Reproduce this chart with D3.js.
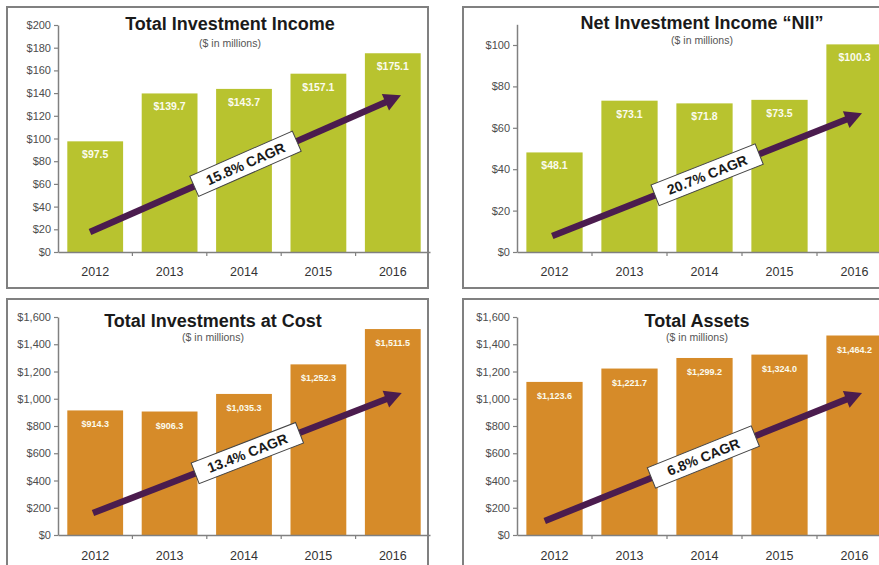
<!DOCTYPE html>
<html>
<head>
<meta charset="utf-8">
<script src="https://cdn.jsdelivr.net/npm/d3@7"></script>
<style>
  html, body { margin: 0; padding: 0; background: #fff; }
  svg { display: block; }
  text { font-family: "Liberation Sans", Arial, sans-serif; }
</style>
</head>
<body>
<svg id="chart" width="879" height="565"></svg>
<script>
// ---- Data ----
const years = ["2012", "2013", "2014", "2015", "2016"];

const titles = ["Total Investment Income", "Net Investment Income \u201CNII\u201D", "Total Investments at Cost", "Total Assets"];
const subtitle = "($ in millions)";

const totalInvestmentIncome = [97.5, 139.7, 143.7, 157.1, 175.1];
const netInvestmentIncome = [48.1, 73.1, 71.8, 73.5, 100.3];
const totalInvestmentsAtCost = [914.3, 906.3, 1035.3, 1252.3, 1511.5];
const totalAssets = [1123.6, 1221.7, 1299.2, 1324.0, 1464.2];

const cagrLabels = ["15.8% CAGR", "20.7% CAGR", "13.4% CAGR", "6.8% CAGR"];

const ticksIncome = [0, 20, 40, 60, 80, 100, 120, 140, 160, 180, 200];
const ticksNII = [0, 20, 40, 60, 80, 100];
const ticksAssets = [0, 200, 400, 600, 800, 1000, 1200, 1400, 1600];

// arrow annotations: [category position start, value start, category position end, value end]
const arrowIncome = [-0.07, 17.6, 4.11, 138];
const arrowNII = [-0.03, 7.7, 4.1, 67];
const arrowCost = [-0.03, 161, 4.12, 1042];
const arrowAssets = [-0.13, 103, 4.1, 1042];

// ---- Layout ----
const GREEN = "#b8c32f";
const ORANGE = "#d68b29";
const PURPLE = "#4b1c4e";

const panels = [
  { values: totalInvestmentIncome, ticks: ticksIncome, yMax: 200, color: GREEN, arrow: arrowIncome,
    frame: [7, 7, 421, 281], xr: [58, 430], yr: [252, 25], titleX: 230, titleY: 30, subY: 47,
    valSize: 10.5, yearY: 272, fmt: d3.format("$,.0f") },
  { values: netInvestmentIncome, ticks: ticksNII, yMax: 110, color: GREEN, arrow: arrowNII,
    frame: [463, 7, 480, 281], xr: [517, 892], yr: [252, 24.3], titleX: 702, titleY: 29, subY: 44,
    valSize: 10.5, yearY: 272, fmt: d3.format("$,.0f") },
  { values: totalInvestmentsAtCost, ticks: ticksAssets, yMax: 1600, color: ORANGE, arrow: arrowCost,
    frame: [7, 299, 421, 300], xr: [58, 430], yr: [535, 317], titleX: 213, titleY: 327, subY: 341,
    valSize: 9, yearY: 556, fmt: d3.format("$,.0f") },
  { values: totalAssets, ticks: ticksAssets, yMax: 1600, color: ORANGE, arrow: arrowAssets,
    frame: [463, 299, 480, 300], xr: [517, 892], yr: [535, 317], titleX: 697, titleY: 327, subY: 341,
    valSize: 9, yearY: 556, fmt: d3.format("$,.0f") }
];

const svg = d3.select("#chart");
const valFmt = d3.format("$,.1f");

panels.forEach((p, i) => {
  const g = svg.append("g");

  // frame
  g.append("rect")
    .attr("x", p.frame[0]).attr("y", p.frame[1])
    .attr("width", p.frame[2]).attr("height", p.frame[3])
    .attr("fill", "#fff").attr("stroke", "#808080").attr("stroke-width", 2);

  const x = d3.scaleBand().domain(years).range(p.xr).paddingInner(0.25).paddingOuter(0.125);
  const y = d3.scaleLinear().domain([0, p.yMax]).range(p.yr);

  // bars
  g.selectAll("rect.bar").data(p.values).join("rect")
    .attr("class", "bar")
    .attr("x", (d, j) => x(years[j]))
    .attr("y", d => y(d))
    .attr("width", x.bandwidth())
    .attr("height", d => y(0) - y(d))
    .attr("fill", p.color);

  // value labels
  g.selectAll("text.val").data(p.values).join("text")
    .attr("class", "val")
    .attr("x", (d, j) => x(years[j]) + x.bandwidth() / 2)
    .attr("y", d => y(d) + 17)
    .attr("text-anchor", "middle")
    .attr("font-size", p.valSize)
    .attr("font-weight", "bold")
    .attr("fill", "#fbfbee")
    .text(d => valFmt(d));

  // y axis
  const yAxis = g.append("g")
    .attr("transform", `translate(${p.xr[0]},0)`)
    .call(d3.axisLeft(y).tickValues(p.ticks).tickFormat(p.fmt).tickSize(4).tickSizeOuter(0).tickPadding(3));
  yAxis.select(".domain").attr("stroke", "#808080").attr("stroke-width", 1.5);
  yAxis.selectAll(".tick line").attr("stroke", "#808080").attr("stroke-width", 1.2);
  yAxis.selectAll(".tick text").attr("fill", "#4d4d4d").attr("font-size", 11)
    .attr("font-family", "'Liberation Sans', Arial, sans-serif");

  // x axis
  const xAxis = g.append("g")
    .attr("transform", `translate(0,${y(0)})`)
    .call(d3.axisBottom(x).tickSize(0).tickSizeOuter(0).tickPadding(0));
  xAxis.select(".domain").attr("stroke", "#808080").attr("stroke-width", 1.5);
  xAxis.selectAll(".tick text")
    .attr("y", p.yearY - y(0))
    .attr("dy", "0.35em")
    .attr("fill", "#333").attr("font-size", 12.5)
    .attr("font-family", "'Liberation Sans', Arial, sans-serif");
  // separator ticks between categories
  g.selectAll("line.sep").data(years.slice(1)).join("line")
    .attr("class", "sep")
    .attr("x1", d => x(d) - x.step() * x.paddingInner() / 2)
    .attr("x2", d => x(d) - x.step() * x.paddingInner() / 2)
    .attr("y1", y(0)).attr("y2", y(0) + 4)
    .attr("stroke", "#808080").attr("stroke-width", 1.2);

  // titles
  g.append("text")
    .attr("x", p.titleX).attr("y", p.titleY)
    .attr("text-anchor", "middle")
    .attr("font-size", 18).attr("font-weight", "bold").attr("fill", "#1a1a1a")
    .text(titles[i]);
  g.append("text")
    .attr("x", p.titleX).attr("y", p.subY)
    .attr("text-anchor", "middle")
    .attr("font-size", 10.5).attr("fill", "#555")
    .text(subtitle);

  // CAGR arrow
  const cx = k => x(years[0]) + x.bandwidth() / 2 + k * x.step();
  const x1 = cx(p.arrow[0]), y1 = y(p.arrow[1]);
  const x2 = cx(p.arrow[2]), y2 = y(p.arrow[3]);
  const ang = Math.atan2(y2 - y1, x2 - x1);
  const deg = ang * 180 / Math.PI;
  const len = Math.hypot(x2 - x1, y2 - y1);
  const head = 17, hw = 9;
  const ag = g.append("g").attr("transform", `translate(${x1},${y1}) rotate(${deg})`);
  ag.append("line")
    .attr("x1", 0).attr("y1", 0).attr("x2", len - head + 2).attr("y2", 0)
    .attr("stroke", PURPLE).attr("stroke-width", 6.5);
  ag.append("path")
    .attr("d", `M${len},0 L${len - head},${-hw} L${len - head},${hw} Z`)
    .attr("fill", PURPLE);

  // CAGR label
  const mx = x1 + (x2 - x1) * 0.5, my = y1 + (y2 - y1) * 0.5;
  const lg = g.append("g").attr("transform", `translate(${mx},${my}) rotate(${deg})`);
  const bw = 112, bh = 22;
  lg.append("rect")
    .attr("x", -bw / 2).attr("y", -bh / 2).attr("width", bw).attr("height", bh)
    .attr("fill", "#fff").attr("stroke", "#444").attr("stroke-width", 1);
  lg.append("text")
    .attr("x", 0).attr("y", 0).attr("dy", "0.36em")
    .attr("text-anchor", "middle")
    .attr("font-size", 14).attr("font-weight", "bold").attr("fill", "#1a1a1a")
    .text(cagrLabels[i]);
});
</script>
</body>
</html>
